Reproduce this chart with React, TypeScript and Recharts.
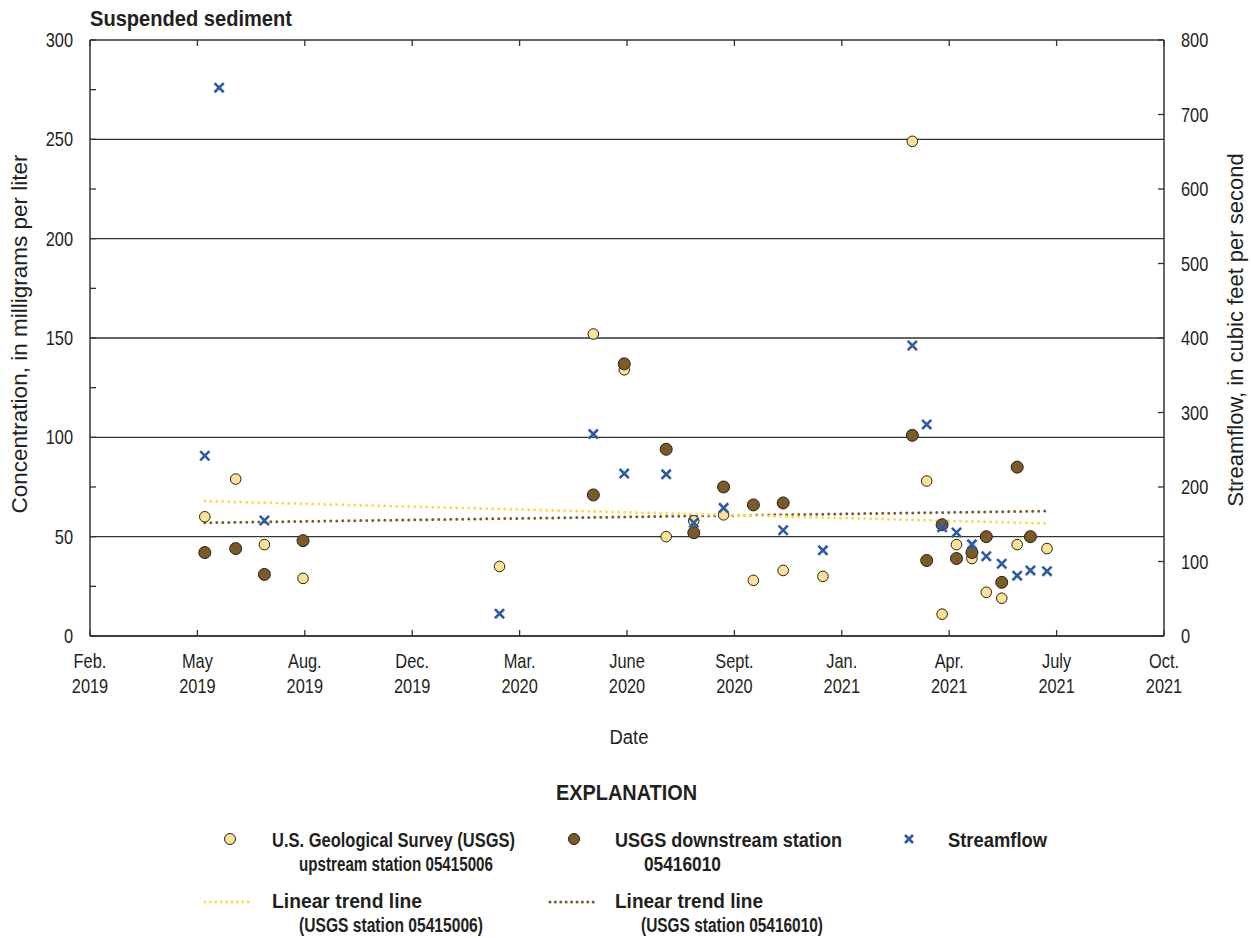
import React from 'react';
import { ComposedChart, Scatter, Line, XAxis, YAxis, CartesianGrid } from 'recharts';

// Liberation Sans squeezed horizontally stands in for the narrow Univers face
const FONT = "'Liberation Sans', Arial, sans-serif";
const SQUEEZE = 0.82;
const INK = '#231f20';

// days since Feb 1, 2019
const DAY0 = Date.UTC(2019, 1, 1);
const toDay = (s: string) => (Date.parse(s) - DAY0) / 86400000;
const X_END = toDay('2021-10-01');

const tickMonths = ['Feb.', 'May', 'Aug.', 'Dec.', 'Mar.', 'June', 'Sept.', 'Jan.', 'Apr.', 'July', 'Oct.'];
const tickYears = ['2019', '2019', '2019', '2019', '2020', '2020', '2020', '2021', '2021', '2021', '2021'];
const xTicks = tickMonths.map((_, i) => (i * X_END) / (tickMonths.length - 1));

const concTicks = [0, 25, 50, 75, 100, 125, 150, 175, 200, 225, 250, 275, 300];
const concGrid = [0, 50, 100, 150, 200, 250, 300];
const flowTicks = [0, 100, 200, 300, 400, 500, 600, 700, 800];

// upstream station 05415006, mg/L
const upstreamDates = [
  '2019-05-16', '2019-06-13', '2019-07-09', '2019-08-13', '2020-02-07', '2020-05-02', '2020-05-30',
  '2020-07-07', '2020-08-01', '2020-08-28', '2020-09-24', '2020-10-21', '2020-11-26', '2021-02-15',
  '2021-02-28', '2021-03-14', '2021-03-27', '2021-04-10', '2021-04-23', '2021-05-07', '2021-05-21',
  '2021-06-17',
];
const upstreamConc = [60, 79, 46, 29, 35, 152, 134, 50, 58, 61, 28, 33, 30, 249, 78, 11, 46, 39, 22, 19, 46, 44];

// downstream station 05416010, mg/L
const downstreamDates = [
  '2019-05-16', '2019-06-13', '2019-07-09', '2019-08-13', '2020-05-02', '2020-05-30', '2020-07-07',
  '2020-08-01', '2020-08-28', '2020-09-24', '2020-10-21', '2021-02-15', '2021-02-28', '2021-03-14',
  '2021-03-27', '2021-04-10', '2021-04-23', '2021-05-07', '2021-05-21', '2021-06-02',
];
const downstreamConc = [42, 44, 31, 48, 71, 137, 94, 52, 75, 66, 67, 101, 38, 56, 39, 42, 50, 27, 85, 50];

// streamflow, ft3/s
const flowDates = [
  '2019-05-16', '2019-05-29', '2019-07-09', '2020-02-07', '2020-05-02', '2020-05-30', '2020-07-07',
  '2020-08-01', '2020-08-28', '2020-10-21', '2020-11-26', '2021-02-15', '2021-02-28', '2021-03-14',
  '2021-03-27', '2021-04-10', '2021-04-23', '2021-05-07', '2021-05-21', '2021-06-02', '2021-06-17',
];
const flowValues = [242, 736, 155, 30, 271, 218, 217, 152, 172, 142, 115, 390, 284, 146, 139, 123, 107, 97, 81, 88, 87];

// linear trend end points
const trendDates = ['2019-05-16', '2021-06-17'];
const trendUpstream = [67.9, 56.7];
const trendDownstream = [57.0, 62.9];

const upstream = upstreamDates.map((d, i) => ({ x: toDay(d), c: upstreamConc[i] }));
const downstream = downstreamDates.map((d, i) => ({ x: toDay(d), c: downstreamConc[i] }));
const flow = flowDates.map((d, i) => ({ x: toDay(d), q: flowValues[i] }));
const trendUp = trendDates.map((d, i) => ({ x: toDay(d), c: trendUpstream[i] }));
const trendDown = trendDates.map((d, i) => ({ x: toDay(d), c: trendDownstream[i] }));

const YELLOW = '#fde391';
const BROWN = '#7b5a26';
const BLUE = '#2c5aa6';
const TREND_YELLOW = '#ffd94a';
const FRAME = '#333';

const PLOT_TOP = 40;

// width, when given, fits the string to the measured length of the original lettering
const NText = ({ x, y, size = 20, bold = false, anchor = 'start', rotate = false, squeeze = SQUEEZE, width, children }: any) => (
  <text
    transform={`translate(${x},${y})${rotate ? ' rotate(-90)' : ''}${width ? '' : ` scale(${squeeze},1)`}`}
    textAnchor={anchor}
    fill={INK}
    fontSize={size}
    fontWeight={bold ? 700 : 400}
    fontFamily={FONT}
    textLength={width}
    lengthAdjust={width ? 'spacingAndGlyphs' : undefined}
  >
    {children}
  </text>
);

const UpMarker = (p: any) => <circle cx={p.cx} cy={p.cy} r={5.3} fill={YELLOW} stroke={INK} strokeWidth={1} />;
const DownMarker = (p: any) => <circle cx={p.cx} cy={p.cy} r={6} fill={BROWN} stroke={INK} strokeWidth={1} />;
const Cross = ({ cx, cy, s = 4.6 }: any) => (
  <path
    d={`M${cx - s},${cy - s}L${cx + s},${cy + s}M${cx - s},${cy + s}L${cx + s},${cy - s}`}
    stroke={BLUE}
    strokeWidth={2.6}
    fill="none"
  />
);
const FlowMarker = (p: any) => <Cross cx={p.cx} cy={p.cy} />;

// bottom axis: inward tick at bottom and top of the frame, two-line label
const DateTick = (props: any) => {
  const { x, y, payload } = props;
  const i = Math.round(payload.value / (X_END / 10));
  return (
    <g>
      <line x1={x} y1={y} x2={x} y2={y - 6} stroke={FRAME} strokeWidth={1.3} />
      <line x1={x} y1={PLOT_TOP} x2={x} y2={PLOT_TOP + 6} stroke={FRAME} strokeWidth={1.3} />
      <NText x={x} y={y + 32} anchor="middle">{tickMonths[i]}</NText>
      <NText x={x} y={y + 57} anchor="middle">{tickYears[i]}</NText>
    </g>
  );
};

const ConcTick = (props: any) => {
  const { x, y, payload } = props;
  return (
    <g>
      <line x1={x} y1={y} x2={x + 6} y2={y} stroke={FRAME} strokeWidth={1.3} />
      {payload.value % 50 === 0 && <NText x={x - 17} y={y + 7} anchor="end">{payload.value}</NText>}
    </g>
  );
};

const FlowTick = (props: any) => {
  const { x, y, payload } = props;
  return (
    <g>
      <line x1={x - 6} y1={y} x2={x} y2={y} stroke={FRAME} strokeWidth={1.3} />
      <NText x={x + 17} y={y + 7}>{payload.value}</NText>
    </g>
  );
};

const axisStroke = { stroke: FRAME, strokeWidth: 1.5 };

const LG = { size: 19.5, bold: true };

const Legend = () => (
  <g>
    <NText x={556} y={800} size={22} bold width={141}>EXPLANATION</NText>
    <circle cx={230} cy={839} r={5.5} fill={YELLOW} stroke={INK} strokeWidth={1} />
    <NText x={272} y={847} {...LG} width={243}>U.S. Geological Survey (USGS)</NText>
    <NText x={299} y={871} {...LG} width={194}>upstream station 05415006</NText>
    <circle cx={574} cy={839} r={5.5} fill={BROWN} stroke={INK} strokeWidth={1} />
    <NText x={615} y={847} {...LG} width={227}>USGS downstream station</NText>
    <NText x={644} y={871} {...LG} width={77}>05416010</NText>
    <Cross cx={909} cy={839} s={4} />
    <NText x={948} y={847} {...LG} width={99}>Streamflow</NText>
    <line x1={205} y1={902} x2={253} y2={902} stroke={TREND_YELLOW} strokeWidth={3} strokeDasharray="0 5.4" strokeLinecap="round" />
    <NText x={272} y={908} {...LG} width={150}>Linear trend line</NText>
    <NText x={299} y={932} {...LG} width={184}>(USGS station 05415006)</NText>
    <line x1={550} y1={902} x2={598} y2={902} stroke={BROWN} strokeWidth={3} strokeDasharray="0 5.4" strokeLinecap="round" />
    <NText x={615} y={908} {...LG} width={148}>Linear trend line</NText>
    <NText x={641} y={932} {...LG} width={182}>(USGS station 05416010)</NText>
  </g>
);

export default function App() {
  return (
    <div style={{ position: 'absolute', left: 0, top: 0, width: 1251, height: 938, background: '#fff' }}>
      <ComposedChart width={1251} height={700} margin={{ top: PLOT_TOP, right: 0, bottom: 0, left: 0 }}>
        <CartesianGrid
          xAxisId="x"
          yAxisId="left"
          vertical={false}
          horizontalValues={concGrid}
          stroke={FRAME}
          strokeWidth={1.3}
        />
        <XAxis
          xAxisId="x"
          dataKey="x"
          type="number"
          domain={[0, X_END]}
          ticks={xTicks}
          interval={0}
          tick={DateTick}
          tickLine={false}
          tickSize={0}
          tickMargin={0}
          axisLine={axisStroke}
          height={64}
        />
        <YAxis
          yAxisId="left"
          type="number"
          domain={[0, 300]}
          ticks={concTicks}
          interval={0}
          tick={ConcTick}
          tickLine={false}
          tickSize={0}
          tickMargin={0}
          axisLine={axisStroke}
          width={90}
        />
        <YAxis
          yAxisId="right"
          orientation="right"
          type="number"
          domain={[0, 800]}
          ticks={flowTicks}
          interval={0}
          tick={FlowTick}
          tickLine={false}
          tickSize={0}
          tickMargin={0}
          axisLine={axisStroke}
          width={87}
        />

        <Scatter data={upstream} dataKey="c" xAxisId="x" yAxisId="left" shape={UpMarker} isAnimationActive={false} />
        <Scatter data={downstream} dataKey="c" xAxisId="x" yAxisId="left" shape={DownMarker} isAnimationActive={false} />
        <Scatter data={flow} dataKey="q" xAxisId="x" yAxisId="right" shape={FlowMarker} isAnimationActive={false} />
        <Line data={trendDown} dataKey="c" xAxisId="x" yAxisId="left" type="linear" stroke={BROWN} strokeWidth={3}
          strokeDasharray="0 6" strokeLinecap="round" dot={false} activeDot={false} isAnimationActive={false} />
        <Line data={trendUp} dataKey="c" xAxisId="x" yAxisId="left" type="linear" stroke={TREND_YELLOW} strokeWidth={3}
          strokeDasharray="0 6" strokeLinecap="round" dot={false} activeDot={false} isAnimationActive={false} />
      </ComposedChart>
      <svg width={1251} height={938} style={{ position: 'absolute', left: 0, top: 0, pointerEvents: 'none' }}>
        <NText x={90} y={26} size={22} bold width={202}>Suspended sediment</NText>
        <NText x={27} y={334} size={22.5} squeeze={1} anchor="middle" rotate>Concentration, in milligrams per liter</NText>
        <NText x={1243} y={330} size={22} squeeze={1} anchor="middle" rotate>Streamflow, in cubic feet per second</NText>
        <NText x={629} y={744} size={21} squeeze={0.88} anchor="middle">Date</NText>
        <Legend />
      </svg>
    </div>
  );
}
